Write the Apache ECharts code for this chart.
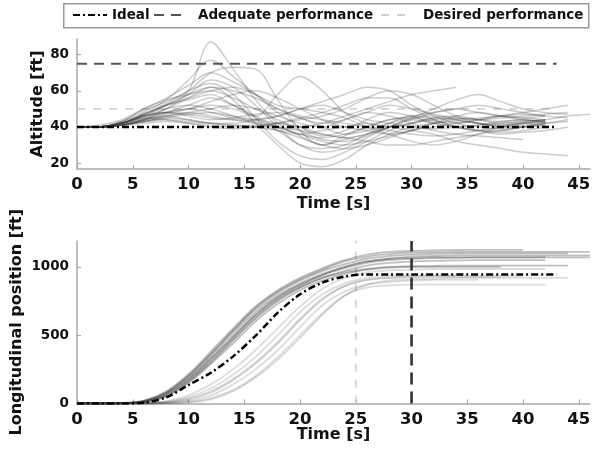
<!DOCTYPE html>
<html><head><meta charset="utf-8">
<script src="https://cdn.jsdelivr.net/npm/echarts@6/dist/echarts.min.js"></script>
<style>html,body{margin:0;padding:0;background:#fff}#c{width:592px;height:451px}</style>
</head><body><div id="c"></div>
<script>
// ---------- data ----------
const legendNames = ['Ideal', 'Adequate performance', 'Desired performance'];
const timeTicks = [0, 5, 10, 15, 20, 25, 30, 35, 40, 45];
const altTicks = [20, 40, 60, 80];
const posTicks = [0, 500, 1000];

const idealAltitude = 40;
const adequateAltitude = 75;
const desiredAltitude = 50;
const refLineEndTime = 43;
const desiredTime = 25;
const adequateTime = 30;

const idealPosTime = [0, 2, 4, 6, 8, 10, 12, 14, 16, 18, 20, 22, 24, 26, 28, 30, 35, 40, 43];
const idealPos     = [0, 0, 0, 5, 45, 135, 225, 345, 495, 665, 800, 885, 930, 945, 945, 945, 945, 945, 945];

// sample times of recorded runs (s)
const traceTime = [0, 2, 4, 6, 8, 10, 12, 14, 16, 18, 20, 22, 24, 26, 28, 30, 32, 34, 36, 38, 40, 42, 44, 46];

// altitude runs (ft)
const altTraces = [
  [40,40,43,47,52,60,87,72,55,42,35,30,35,40,44,45,43,42,44,46,45,44],
  [40,40,42,48,55,66,77,68,58,48,40,35,38,44,48,46,42,40,41,43,44,42],
  [40,41,44,50,56,63,70,65,58,50,45,42,44,48,52,50,47,45,44,45,46,47,48],
  [40,40,43,49,54,60,70,73,72,55,38,30,33,36,40,42,44,45,44,43,44,43],
  [40,40,42,46,48,50,52,50,46,58,68,60,48,42,40,42,45,44,42,41,42,43],
  [40,40,41,44,50,58,66,62,52,40,30,26,28,34,40,44,42,40,38,36,37,38,40],
  [40,40,42,47,53,60,64,58,45,32,24,22,26,32,38,42,45,46,44,42,43,44],
  [40,40,41,45,50,56,62,55,42,30,20,18,22,30,36,40,42,43,42,40,40,41],
  [40,40,43,50,55,58,60,56,50,44,38,33,32,35,40,44,48,50,48,46,45,46],
  [40,40,42,47,52,55,58,52,45,38,30,28,30,36,42,46,44,40,38,38,40,42,43],
  [40,40,42,46,48,46,44,45,47,48,45,40,36,38,42,45,46,44,42,41,42,41],
  [40,40,41,44,46,44,42,42,44,46,50,52,48,44,42,40,39,40,41,42,43,44,46,47],
  [40,40,42,45,44,42,40,39,40,42,44,46,50,56,60,58,52,46,42,40,41,42],
  [40,40,41,43,45,44,42,41,41,42,40,36,34,36,40,45,50,55,58,54,50,48,47],
  [40,40,42,46,48,47,45,44,43,40,36,32,30,32,35,38,40,42,44,46,48,50,52],
  [40,40,41,43,44,43,42,41,40,38,36,38,40,42,40,38,36,32,30,28,26,25,24],
  [40,40,42,44,46,48,50,52,50,46,42,40,44,48,46,42,38,36,35,34,33],
  [40,40,42,47,52,56,60,62,58,52,50,48,45,40,36,32,30,32,36,40,42,43],
  [40,40,41,44,47,50,54,58,60,56,50,44,40,38,36,38,42,46,48,46,44,43],
  [40,40,42,45,48,50,48,45,44,46,50,54,58,62,60,52,46,42,40,39,40,41],
  [40,40,41,43,45,47,48,46,44,42,40,42,46,50,54,58,60,62],
  [40,40,42,46,50,52,50,46,42,38,34,30,28,30,34,38,42,44,45,46,47,46],
  [40,40,41,44,48,52,56,52,46,40,36,34,36,40,44,46,48,50,52,50,48,46,45],
  [40,40,41,42,43,42,41,40,40,42,45,48,52,56,56,50,44,40,38,37,38,40],
  [40,40,42,46,52,58,62,60,56,50,46,44,42,40,38,36,35,36,38,40,42,44],
  [40,40,41,43,46,48,46,44,42,40,38,36,34,32,30,30,32,34,36,38,40,42,44]
];

// longitudinal position runs (ft): runs ahead of the ideal profile
const posTracesAhead = [
  [0,0,2,15,70,180,330,490,650,780,870,940,990,1030,1050,1060,1065,1068,1070,1070,1070,1072],
  [0,0,3,20,80,200,360,530,690,810,900,970,1020,1060,1080,1090,1095,1100,1100,1100,1100,1100,1100],
  [0,0,2,12,60,165,310,470,630,760,850,920,970,1010,1030,1040,1045,1048,1050,1050,1050,1050],
  [0,0,3,22,90,215,380,550,710,830,920,990,1050,1090,1110,1118,1122,1124,1125,1125,1125],
  [0,0,2,16,75,190,345,510,670,790,880,950,1000,1040,1060,1075,1080,1085,1085,1085,1085,1085,1085,1085],
  [0,0,2,12,55,160,300,460,620,750,850,920,960,985,1000,1005,1008,1010,1010,1010,1010,1010,1010],
  [0,0,3,18,80,205,365,535,700,820,910,980,1040,1075,1095,1105,1108,1110,1110,1110,1110,1110,1110,1110],
  [0,0,1,10,50,150,290,440,600,730,830,900,950,980,995,1000,1000,1000,1000,1000],
  [0,0,2,14,65,175,325,485,645,770,865,940,1000,1040,1060,1065,1070,1070,1070,1070,1070,1070,1070,1070]
];
// runs behind the ideal profile
const posTracesBehind = [
  [0,0,0,2,10,35,90,180,300,450,620,770,860,905,920,930,935,935,935,935,935],
  [0,0,0,1,5,20,60,140,250,390,560,720,820,870,890,900,905,905,905],
  [0,0,0,0,3,12,40,100,200,340,500,660,790,850,865,870,870,870,870,870,870,870],
  [0,0,0,0,2,8,30,90,190,320,480,650,790,870,900,910,915,920,920,920,920,920,920],
  [0,0,0,1,6,28,80,170,290,440,610,760,860,905,920,925,925,925,925,925],
  [0,0,1,4,18,60,140,250,390,550,710,840,920,960,975,980,985,985,985,985,985,985],
  [0,0,0,2,12,45,110,210,340,500,670,800,880,920,935,940,940,940]
];

// ---------- build ----------
const FONT = 'DejaVu Sans';
const TXT = '#111';
const AXIS = '#a8a8a8';

function pairs(trace) {
  const out = [];
  trace.forEach((v, i) => { if (v != null) out.push([traceTime[i], v]); });
  return out;
}

const series = [];
altTraces.forEach(tr => series.push({
  type: 'line', xAxisIndex: 0, yAxisIndex: 0, data: pairs(tr), smooth: 0.35,
  symbol: 'none', silent: true, z: 2,
  lineStyle: { color: 'rgba(60,60,60,0.26)', width: 1.5 }
}));
posTracesAhead.forEach(tr => series.push({
  type: 'line', xAxisIndex: 1, yAxisIndex: 1, data: pairs(tr), smooth: 0.35,
  symbol: 'none', silent: true, z: 2,
  lineStyle: { color: 'rgba(60,60,60,0.33)', width: 1.8 }
}));
posTracesBehind.forEach(tr => series.push({
  type: 'line', xAxisIndex: 1, yAxisIndex: 1, data: pairs(tr), smooth: 0.35,
  symbol: 'none', silent: true, z: 2,
  lineStyle: { color: 'rgba(60,60,60,0.18)', width: 1.8 }
}));

const idealStyle = { color: '#000', width: 2.5, type: [7, 3, 2, 3] };
const adequateStyle = { color: '#555', width: 2.2, type: [10, 7] };
const desiredStyle = { color: '#cfcfcf', width: 1.6, type: [8, 8] };

series.push(
  { name: legendNames[0], type: 'line', xAxisIndex: 0, yAxisIndex: 0, symbol: 'none', z: 5, silent: true,
    data: [[0, idealAltitude], [refLineEndTime, idealAltitude]], lineStyle: idealStyle },
  { name: legendNames[1], type: 'line', xAxisIndex: 0, yAxisIndex: 0, symbol: 'none', z: 5, silent: true,
    data: [[0, adequateAltitude], [refLineEndTime, adequateAltitude]], lineStyle: adequateStyle },
  { name: legendNames[2], type: 'line', xAxisIndex: 0, yAxisIndex: 0, symbol: 'none', z: 1, silent: true,
    data: [[0, desiredAltitude], [refLineEndTime, desiredAltitude]], lineStyle: desiredStyle },
  { name: legendNames[0], type: 'line', xAxisIndex: 1, yAxisIndex: 1, symbol: 'none', z: 5, silent: true, smooth: 0.3,
    data: idealPosTime.map((t, i) => [t, idealPos[i]]), lineStyle: idealStyle },
  { name: legendNames[1], type: 'line', xAxisIndex: 1, yAxisIndex: 1, symbol: 'none', z: 5, silent: true,
    data: [[adequateTime, 0], [adequateTime, 1190]], lineStyle: { color: '#333', width: 2.6, type: [12, 7] } },
  { name: legendNames[2], type: 'line', xAxisIndex: 1, yAxisIndex: 1, symbol: 'none', z: 1, silent: true,
    data: [[desiredTime, 0], [desiredTime, 1190]], lineStyle: desiredStyle }
);

const tickLabel = (size) => ({ fontFamily: FONT, fontWeight: 'bold', fontSize: size, color: TXT, formatter: v => String(v) });
function xAxis(gridIndex, margin, nameGap) {
  return {
    type: 'value', gridIndex, min: 0, max: 46,
    name: 'Time [s]', nameLocation: 'middle', nameGap, nameMoveOverlap: false,
    nameTextStyle: { fontFamily: FONT, fontWeight: 'bold', fontSize: 16, color: TXT },
    axisLine: { show: true, onZero: false, lineStyle: { color: AXIS, width: 1.5 } },
    axisTick: { show: true, inside: true, length: 4, lineStyle: { color: AXIS, width: 1.2 }, customValues: timeTicks },
    axisLabel: Object.assign({ margin, customValues: timeTicks }, tickLabel(16.5)),
    splitLine: { show: false }
  };
}
function yAxis(gridIndex, min, max, ticks, name, nameGap) {
  return {
    type: 'value', gridIndex, min, max,
    name, nameLocation: 'middle', nameGap, nameMoveOverlap: false,
    nameTextStyle: { fontFamily: FONT, fontWeight: 'bold', fontSize: 16, color: TXT },
    axisLine: { show: true, onZero: false, lineStyle: { color: AXIS, width: 1.5 } },
    axisTick: { show: true, inside: true, length: 4, lineStyle: { color: AXIS, width: 1.2 }, customValues: ticks },
    axisLabel: Object.assign({ margin: 8, customValues: ticks }, tickLabel(13.5)),
    splitLine: { show: false }
  };
}

const legendText = (pad) => ({ fontFamily: FONT, fontWeight: 'bold', fontSize: 13.5, color: TXT, padding: [0, 0, 0, pad] });
const legendBase = { top: 8, itemHeight: 14, padding: 0, selectedMode: false, itemStyle: { opacity: 0 } };

const option = {
  animation: false,
  backgroundColor: '#fff',
  graphic: [{
    type: 'rect', left: 63, top: 3, z: -1,
    shape: { width: 525, height: 24 },
    style: { fill: '#fff', stroke: '#9a9a9a', lineWidth: 1.5 }
  }],
  legend: [
    Object.assign({ data: [legendNames[0]], left: 72, itemWidth: 34, textStyle: legendText(0) }, legendBase),
    Object.assign({ data: [legendNames[1]], left: 153, itemWidth: 30, textStyle: legendText(9) }, legendBase),
    Object.assign({ data: [legendNames[2]], left: 380, itemWidth: 30, textStyle: legendText(7) }, legendBase)
  ],
  grid: [
    { left: 77, top: 39, width: 513, height: 130, outerBoundsMode: 'none', containLabel: false },
    { left: 77, top: 241, width: 513, height: 162.5, outerBoundsMode: 'none', containLabel: false }
  ],
  xAxis: [xAxis(0, 7, 27), xAxis(1, 8, 23)],
  yAxis: [
    yAxis(0, 16.7, 88.7, altTicks, 'Altitude [ft]', 31),
    yAxis(1, 0, 1190, posTicks, 'Longitudinal position [ft]', 52)
  ],
  series
};

const chart = echarts.init(document.getElementById('c'), null, { renderer: 'canvas' });
chart.setOption(option);
</script>
</body></html>
